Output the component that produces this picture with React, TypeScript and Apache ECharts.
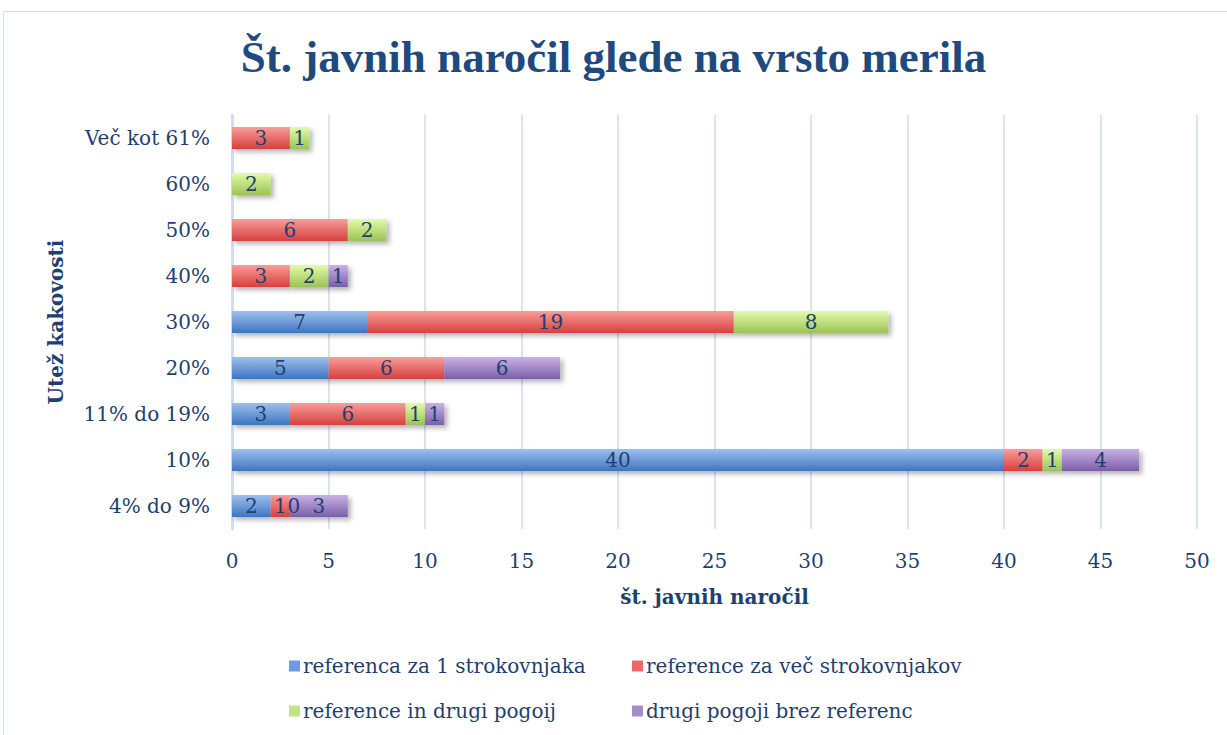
import React, { useEffect, useRef } from "react";
import * as echarts from "echarts";

const categories = ["4% do 9%", "10%", "11% do 19%", "20%", "30%", "40%", "50%", "60%", "Več kot 61%"];
const seriesNames = [
  "referenca za 1 strokovnjaka",
  "reference za več strokovnjakov",
  "reference in drugi pogoij",
  "drugi pogoji brez referenc",
];
const blueValues = [2, 40, 3, 5, 7, null, null, null, null];
const redValues = [1, 2, 6, 6, 19, 3, 6, null, 3];
const greenValues = [0, 1, 1, null, 8, 2, 2, 2, 1];
const purpleValues = [3, 4, 1, 6, null, 1, null, null, null];
const xTicks = [0, 5, 10, 15, 20, 25, 30, 35, 40, 45, 50];

const FONT = "'DejaVu Serif', 'Liberation Serif', serif";
const TITLE_FONT = "'Liberation Serif', serif";
const TEXT = "#1f3f6e";

const grad = (top: string, bottom: string) =>
  new echarts.graphic.LinearGradient(0, 0, 0, 1, [
    { offset: 0, color: top },
    { offset: 1, color: bottom },
  ]);

export default function App() {
  const ref = useRef<HTMLDivElement>(null);
  useEffect(() => {
    if (!ref.current) return;
    const chart = echarts.init(ref.current, null, { renderer: "svg" });
    const colors = [
      grad("#9dc0ef", "#3f75c0"),
      grad("#fa9d9b", "#d4403d"),
      grad("#e3fba9", "#9cc355"),
      grad("#c8b2e6", "#7b5ea8"),
    ];
    const legendColors = ["#6d9be0", "#e86b69", "#c3e384", "#a48bcc"];
    const dataArr = [blueValues, redValues, greenValues, purpleValues];
    const legendPos = [
      { left: 284, top: 651 },
      { left: 627, top: 651 },
      { left: 284, top: 696 },
      { left: 627, top: 696 },
    ];
    chart.setOption({
      animation: false,
      textStyle: { fontFamily: FONT },
      title: {
        text: "Št. javnih naročil glede na vrsto merila",
        left: "center",
        top: 29,
        textStyle: { fontFamily: TITLE_FONT, fontSize: 45, fontWeight: "bold", color: "#1f4a7e" },
      },
      graphic: [
        {
          type: "rect",
          shape: { x: 3.5, y: 11.5, width: 1250, height: 750 },
          style: { fill: "none", stroke: "#d5e0ee", lineWidth: 1 },
          silent: true,
        },
      ],
      legend: legendPos.map((p, i) => ({
        left: p.left,
        top: p.top,
        data: [{ name: seriesNames[i], itemStyle: { color: legendColors[i] } }],
        itemWidth: 11,
        itemHeight: 11,
        icon: "rect",
        itemGap: 4,
        textStyle: { fontFamily: FONT, fontSize: 20, color: TEXT, padding: [0, 0, 0, -2] },
        selectedMode: false,
      })),
      grid: { left: 232, right: 30, top: 115, bottom: 206, containLabel: false },
      xAxis: {
        type: "value",
        min: 0,
        max: 50,
        interval: 5,
        name: "št. javnih naročil",
        nameLocation: "middle",
        nameGap: 58,
        nameTextStyle: { fontFamily: FONT, fontSize: 20, fontWeight: "bold", color: TEXT },
        axisLabel: { fontFamily: FONT, fontSize: 20, color: TEXT, margin: 22, formatter: (v: number) => (xTicks.includes(v) ? String(v) : "") },
        splitLine: { show: true, lineStyle: { color: "#d9e4f1", width: 2 } },
        axisLine: { show: false },
        axisTick: { show: false },
      },
      yAxis: {
        type: "category",
        data: categories,
        name: "Utež kakovosti",
        nameLocation: "middle",
        nameGap: 166,
        nameRotate: 90,
        nameTextStyle: { fontFamily: FONT, fontSize: 20, fontWeight: "bold", color: TEXT },
        axisLabel: { fontFamily: FONT, fontSize: 20, color: TEXT, margin: 22 },
        axisLine: { show: true, lineStyle: { color: "#d0def0", width: 3 } },
        axisTick: { show: false },
      },
      series: dataArr.map((d, i) => ({
        name: seriesNames[i],
        type: "bar",
        stack: "total",
        data: d.map((v) => (v === 0 ? { value: v, label: { offset: [4, 0] } } : v)),
        barWidth: 22,
        itemStyle: {
          color: colors[i],
          shadowBlur: 5,
          shadowOffsetX: 3,
          shadowOffsetY: 3,
          shadowColor: "rgba(0,0,0,0.3)",
        },
        label: {
          show: true,
          position: "inside",
          fontFamily: FONT,
          fontSize: 20,
          color: TEXT,
          formatter: (p: any) => (p.value == null ? "" : String(p.value)),
        },
      })),
    });
    return () => chart.dispose();
  }, []);
  return (
    <div
      ref={ref}
      style={{ position: "fixed", left: 0, top: 0, width: 1227, height: 735, background: "#fff" }}
    />
  );
}
